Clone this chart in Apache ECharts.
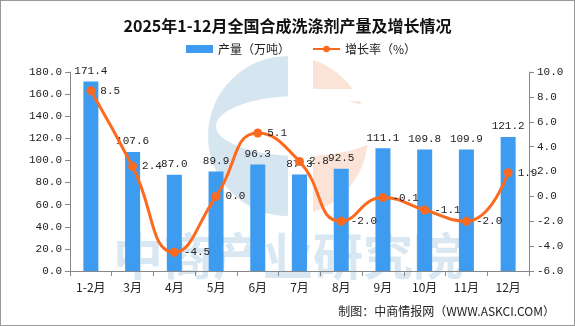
<!DOCTYPE html>
<html><head><meta charset="utf-8">
<script src="https://cdn.jsdelivr.net/npm/echarts@6/dist/echarts.min.js"></script>
<style>
html,body{margin:0;padding:0;background:#fff;}
#c{width:575px;height:326px;box-sizing:border-box;border:1px solid #999;}
</style></head>
<body><div id="c"></div>
<script>
const categories = ['1-2月','3月','4月','5月','6月','7月','8月','9月','10月','11月','12月'];
const output = [171.4,107.6,87.0,89.9,96.3,87.3,92.5,111.1,109.8,109.9,121.2];
const growth = [8.5,2.4,-4.5,0.0,5.1,2.8,-2.0,-0.1,-1.1,-2.0,1.9];

const FONT = '"Liberation Mono","Noto Sans CJK SC",monospace';
const chart = echarts.init(document.getElementById('c'));
chart.setOption({
  animation:false,
  backgroundColor:'#fff',
  title:{text:'2025年1-12月全国合成洗涤剂产量及增长情况',left:'center',top:12,
    textStyle:{fontSize:16,fontWeight:'bold',color:'#111',fontFamily:'"Noto Sans CJK SC",serif'}},
  legend:{top:37,left:180,itemGap:22,itemWidth:27,itemHeight:8,
    textStyle:{fontSize:12,color:'#222',fontFamily:'"Noto Sans CJK SC",sans-serif'},
    data:[{name:'产量（万吨）',icon:'rect'},{name:'增长率（%）'}]},
  graphic:[
    {type:'sector',z:-10,shape:{cx:287,cy:135,r:80,r0:0,startAngle:-Math.PI/2,endAngle:Math.PI/2},style:{fill:'#fbe3d8'}},
    {type:'rect',z:-9,shape:{x:287,y:50,width:25,height:170},style:{fill:'#fff'}},
    {type:'rect',z:-9,shape:{x:312,y:88,width:80,height:12},style:{fill:'#fff'}},
    {type:'sector',z:-10,shape:{cx:287,cy:135,r:80,r0:0,startAngle:Math.PI/2,endAngle:Math.PI*1.5},style:{fill:'#d6e6f0'}},
    {type:'ellipse',z:-9,shape:{cx:300,cy:125,rx:85,ry:30},style:{fill:'#fff'}},
    {type:'rect',z:-8,shape:{x:287,y:50,width:25,height:170},style:{fill:'#fff'}},
    {type:'text',z:-7,left:112,top:230,style:{text:'中商产业研究院',fontSize:50,fontWeight:'bold',fill:'rgba(190,215,232,0.6)',fontFamily:'"Noto Sans CJK SC",sans-serif'}},
    {type:'text',right:19,top:304,style:{text:'制图：中商情报网（WWW.ASKCI.COM）',fontSize:12,fill:'#222',fontFamily:'"Noto Sans CJK SC",sans-serif'}}
  ],
  grid:{left:69,right:45,top:71,bottom:54},
  xAxis:{type:'category',data:categories,
    axisLine:{lineStyle:{color:'#888'}},axisTick:{show:true,length:5,lineStyle:{color:'#888'}},
    axisLabel:{color:'#222',fontSize:12,margin:10,fontFamily:'"Noto Sans CJK SC",sans-serif'}},
  yAxis:[
    {type:'value',min:0,max:180,interval:20,splitLine:{show:false},
      axisLine:{show:true,lineStyle:{color:'#888'}},axisTick:{show:true,length:5,lineStyle:{color:'#888'}},
      axisLabel:{color:'#222',fontSize:11,fontFamily:FONT,formatter:v=>v.toFixed(1)}},
    {type:'value',min:-6,max:10,interval:2,splitLine:{show:false},
      axisLine:{show:true,lineStyle:{color:'#888'}},axisTick:{show:true,length:5,lineStyle:{color:'#888'}},
      axisLabel:{color:'#222',fontSize:11,fontFamily:FONT,formatter:v=>v.toFixed(1)}}
  ],
  series:[
    {name:'产量（万吨）',type:'bar',data:output,barWidth:15,itemStyle:{color:'#3d9cf0'},
      label:{show:true,position:'top',distance:5,color:'#222',fontSize:11,fontFamily:FONT,formatter:p=>p.value.toFixed(1)}},
    {name:'增长率（%）',type:'line',yAxisIndex:1,data:growth,smooth:0.5,symbol:'circle',symbolSize:9,
      lineStyle:{color:'#fb6a1f',width:3},itemStyle:{color:'#fb6a1f'},
      label:{show:true,position:'right',distance:5,color:'#222',fontSize:11,fontFamily:FONT,formatter:p=>p.value.toFixed(1)}}
  ]
});
</script></body></html>
